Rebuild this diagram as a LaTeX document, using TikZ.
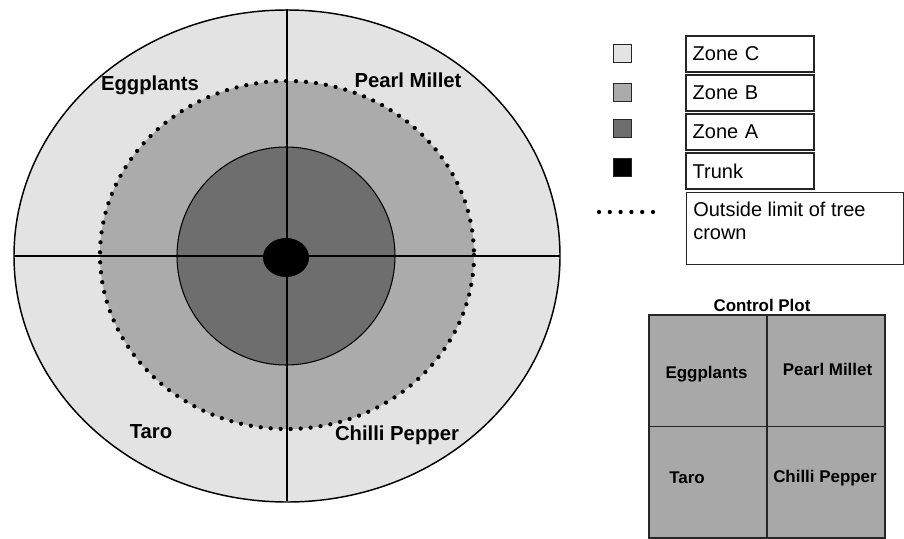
\documentclass[tikz,border=0pt]{standalone}
\usepackage{fontspec}
\setmainfont{Liberation Sans}
\definecolor{zoneC}{gray}{0.89}
\definecolor{zoneB}{gray}{0.67}
\definecolor{zoneA}{gray}{0.43}
\definecolor{plotgray}{gray}{0.66}
\definecolor{edge}{gray}{0.15}
\tikzset{
  crop/.style={font=\bfseries\fontsize{15.2}{17}\selectfont, anchor=base, inner sep=0pt},
  plotcrop/.style={font=\bfseries\fontsize{12.7}{15}\selectfont, anchor=base, inner sep=0pt},
  legbox/.style={draw=edge, line width=0.9pt, minimum width=96pt, minimum height=27pt,
    inner xsep=5pt, text width=86pt, align=left, font=\fontsize{15}{17}\selectfont},
  swatch/.style={draw=edge, line width=0.9pt, minimum size=13.5pt, inner sep=0pt},
  crown line/.style={line width=3.2pt, line cap=round, dash pattern=on 0pt off 7.5pt},
}
\begin{document}
\begin{tikzpicture}[x=0.75pt,y=-0.75pt]
\useasboundingbox (0,0) rectangle (904,539);
\coordinate (O) at (287,256);
% zones of the tree
\fill[zoneC] (O) ellipse [x radius=273, y radius=246];
\fill[zoneB] (287,255) ellipse [x radius=187, y radius=174];
\draw[crown line] (287,255) ellipse [x radius=187, y radius=174];
\filldraw[fill=zoneA, draw=black, line width=0.8pt] (286,256) circle [radius=109];
\draw[line width=1.1pt] (O) ellipse [x radius=273, y radius=246];
% quarters
\coordinate (top) at (287,9);
\coordinate (bottom) at (287,501);
\coordinate (left) at (14,256);
\coordinate (right) at (560,256);
\draw[line width=1.5pt] (top) -- (bottom);
\draw[line width=1.5pt] (left) -- (right);
\fill (286,257.5) ellipse [x radius=23, y radius=19.5];
% crops
\node[crop] (egg) at (150,90) {Eggplants};
\node[crop] (millet) at (408,87) {Pearl Millet};
\node[crop] (taro) at (151,438) {Taro};
\node[crop] (chilli) at (397,440) {Chilli Pepper};
% legend
\node[swatch, fill=zoneC] (swC) at (622.5,53.5) {};
\node[swatch, fill=zoneB] (swB) at (622.5,92.5) {};
\node[swatch, fill=zoneA] (swA) at (622.5,128.5) {};
\node[swatch, fill=black] (swT) at (622.5,167.5) {};
\node[legbox] (legC) at (750,54) {Zone C};
\node[legbox] (legB) at (750,93) {Zone B};
\node[legbox] (legA) at (750,132) {Zone A};
\node[legbox] (legT) at (750,171) {Trunk};
\coordinate (dotL) at (599,212);
\coordinate (dotR) at (653,212);
\draw[crown line, dash pattern=on 0pt off 8.1pt] (dotL) -- (dotR);
\node[draw=edge, line width=0.9pt, minimum width=162.75pt, minimum height=54pt,
  anchor=north west, inner sep=0pt] (legcrown) at (686,192) {};
\node[anchor=north west, inner sep=0pt, align=left, font=\fontsize{15}{17.25}\selectfont]
  (legcrowntxt) at (693,202) {Outside limit of tree\\crown};
% control plot
\node[draw=edge, fill=plotgray, line width=0.9pt, minimum width=177pt, minimum height=167.25pt,
  inner sep=0pt, outer sep=0pt] (plot) at (767,426.5) {};
\draw[edge, line width=0.9pt] (plot.north) -- (plot.south);
\draw[edge, line width=0.9pt] (plot.west) -- (plot.east);
\node[plotcrop] (plottitle) at (762,311) {Control Plot};
\node[plotcrop] (pegg) at (706.5,378) {Eggplants};
\node[plotcrop] (pmillet) at (827.5,375) {Pearl Millet};
\node[plotcrop] (ptaro) at (687,483) {Taro};
\node[plotcrop] (pchilli) at (825,482) {Chilli Pepper};
\end{tikzpicture}
\end{document}
